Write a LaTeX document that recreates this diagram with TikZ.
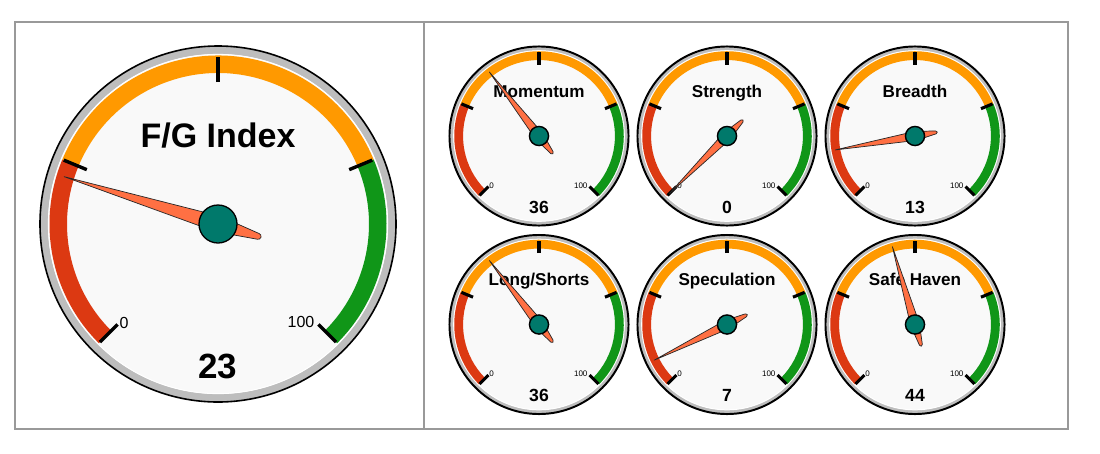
\documentclass[tikz,border=0pt]{standalone}
\usepackage{fontspec}
\setmainfont{Liberation Sans}
\definecolor{bandred}{HTML}{DC3912}
\definecolor{bandorange}{HTML}{FF9900}
\definecolor{bandgreen}{HTML}{109618}
\definecolor{facecol}{HTML}{F9F9F9}
\definecolor{ringgray}{HTML}{BDBDBD}
\definecolor{needlecol}{HTML}{FF7043}
\definecolor{hubcol}{HTML}{00796B}
\definecolor{framegray}{HTML}{999999}
\tikzset{
  tickmark/.style={black},
  needleshape/.style={fill=needlecol, draw=black!85, line width=0.7pt, line join=round},
  hubdot/.style={circle, fill=hubcol, draw=black, minimum size=38pt, inner sep=0pt},
  scalelabel/.style={font=\fontsize{16}{18}\selectfont, inner sep=0pt},
  gtitle/.style={anchor=base, font=\bfseries\fontsize{34}{40}\selectfont, inner sep=0pt},
  gvalue/.style={anchor=base, font=\bfseries\fontsize{35}{40}\selectfont, inner sep=0pt},
}
\newcommand{\gaugeG}[6]{%
\begin{scope}[shift={(#1,-#2)}, scale=#3, transform shape]
  \fill[facecol] (0,0) circle (170);
  \fill[ringgray, even odd rule] (0,0) circle (177.5) (0,0) circle (170);
  \draw[white, line width=1pt] (0,0) circle (169.6);
  \draw[black, line width={(2.3-0.7*#3)*1pt}] (0,0) circle (178);
  \fill[bandred] (225:168.5) arc[start angle=225, end angle=157.5, radius=168.5]
     -- (157.5:151) arc[start angle=157.5, end angle=225, radius=151] -- cycle;
  \fill[bandorange] (157.5:168.5) arc[start angle=157.5, end angle=22.5, radius=168.5]
     -- (22.5:151) arc[start angle=22.5, end angle=157.5, radius=151] -- cycle;
  \fill[bandgreen] (22.5:168.5) arc[start angle=22.5, end angle=-45, radius=168.5]
     -- (-45:151) arc[start angle=-45, end angle=22.5, radius=151] -- cycle;
  \foreach \a in {225,157.5,90,22.5,-45}
     \draw[tickmark, line width={(2.8+0.6*#3)*1pt}] (\a:142) -- (\a:167);
  \node[scalelabel] (#6lo) at (-94,-98.5) {0};
  \node[scalelabel] (#6hi) at (83,-98) {100};
  \node[gtitle] (#6t) at (0,77) {#4};
  \node[gvalue] (#6v) at (0,-154) {#5};
  \draw[needleshape, rotate=225-#5*2.7] (161,0) -- (0,{8+2*(1-#3)}) -- (-42,3)
     arc[start angle=90, end angle=270, radius=3] -- (0,{-8-2*(1-#3)}) -- cycle;
  \node[hubdot, line width={(1.6-0.3*#3)*1pt}] (#6) at (0,0) {};
\end{scope}}
\begin{document}
\begin{tikzpicture}[x=1pt,y=1pt]
\useasboundingbox (0,0) rectangle (1100,-453);
\fill[white] (0,0) rectangle (1100,-453);
\draw[framegray, line width=1.4pt] (15,-22) rectangle (1068,-429);
\draw[framegray, line width=1.4pt] (424,-22) -- (424,-429);
\gaugeG{218}{224}{1}{F/G Index}{23}{fg}
\gaugeG{539}{136}{0.503}{Momentum}{36}{mom}
\gaugeG{727}{136}{0.503}{Strength}{0}{str}
\gaugeG{915}{136}{0.503}{Breadth}{13}{bre}
\gaugeG{539}{324.5}{0.503}{Long/Shorts}{36}{ls}
\gaugeG{727}{324.5}{0.503}{Speculation}{7}{spe}
\gaugeG{915}{324.5}{0.503}{Safe Haven}{44}{sh}
\end{tikzpicture}
\end{document}
